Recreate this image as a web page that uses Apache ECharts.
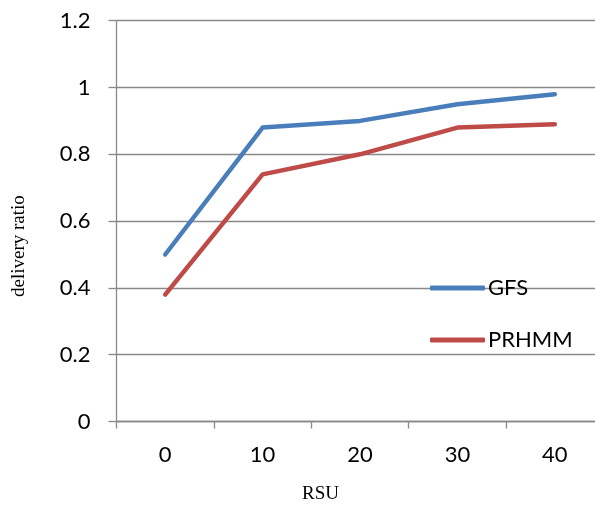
<!DOCTYPE html>
<html><head><meta charset="utf-8">
<script src="https://cdn.jsdelivr.net/npm/echarts@6/dist/echarts.min.js"></script>
<style>html,body{margin:0;padding:0;background:#fff;overflow:hidden}#c{width:612px;height:505px}</style>
</head><body><div id="c"></div>
<script>
const categories = ['0', '10', '20', '30', '40'];
const gfs = [0.5, 0.88, 0.9, 0.95, 0.98];
const prhmm = [0.38, 0.74, 0.8, 0.88, 0.89];
const yTicks = [0, 0.2, 0.4, 0.6, 0.8, 1, 1.2];
const xTitle = 'RSU';
const yTitle = 'delivery ratio';

const chart = echarts.init(document.getElementById('c'), null, {renderer: 'canvas'});
const axisGray = '#898989';
const labelFont = {fontFamily: 'Lato', fontSize: 22, color: '#000'};
chart.setOption({
  animation: false,
  backgroundColor: '#fff',
  grid: {left: 116.5, top: 20.7, width: 487, height: 400.8, containLabel: false},
  graphic: [
    {type: 'text', left: 302, top: 485, style: {text: xTitle, font: '19px "Liberation Serif"', fill: '#000'}},
    {type: 'text', x: 19, y: 297, rotation: Math.PI / 2,
     style: {text: yTitle, font: '19px "Liberation Serif"', fill: '#000', align: 'left', verticalAlign: 'middle'}}
  ],
  xAxis: {
    type: 'category', data: categories, boundaryGap: true,
    axisLine: {lineStyle: {color: axisGray, width: 1.3}},
    axisTick: {show: true, length: 7, lineStyle: {color: axisGray, width: 1.3}},
    axisLabel: Object.assign({margin: 22}, labelFont),
    splitLine: {show: false}
  },
  yAxis: {
    type: 'value', min: 0, max: 1.2, interval: 0.2,
    axisLine: {show: true, lineStyle: {color: axisGray, width: 1.3}},
    axisTick: {show: true, length: 8, lineStyle: {color: axisGray, width: 1.3}},
    axisLabel: Object.assign({margin: 26, formatter: v => {
      const t = yTicks.find(x => Math.abs(x - v) < 1e-9);
      return t === undefined ? '' : String(t);
    }}, labelFont),
    splitLine: {show: true, lineStyle: {color: axisGray, width: 1.3}}
  },
  legend: {
    orient: 'vertical', left: 425, top: 272, itemGap: 30,
    itemWidth: 55, itemHeight: 5, icon: 'roundRect',
    textStyle: {fontFamily: 'Lato', fontSize: 22, color: '#000', padding: [0, 0, 0, -2]},
    data: ['GFS', 'PRHMM']
  },
  series: [
    {name: 'GFS', type: 'line', data: gfs, symbol: 'none', color: '#4a7ebb',
     lineStyle: {width: 4.5, color: '#4a7ebb', cap: 'round', join: 'round'}},
    {name: 'PRHMM', type: 'line', data: prhmm, symbol: 'none', color: '#be4b48',
     lineStyle: {width: 4.5, color: '#be4b48', cap: 'round', join: 'round'}}
  ]
});
</script></body></html>
